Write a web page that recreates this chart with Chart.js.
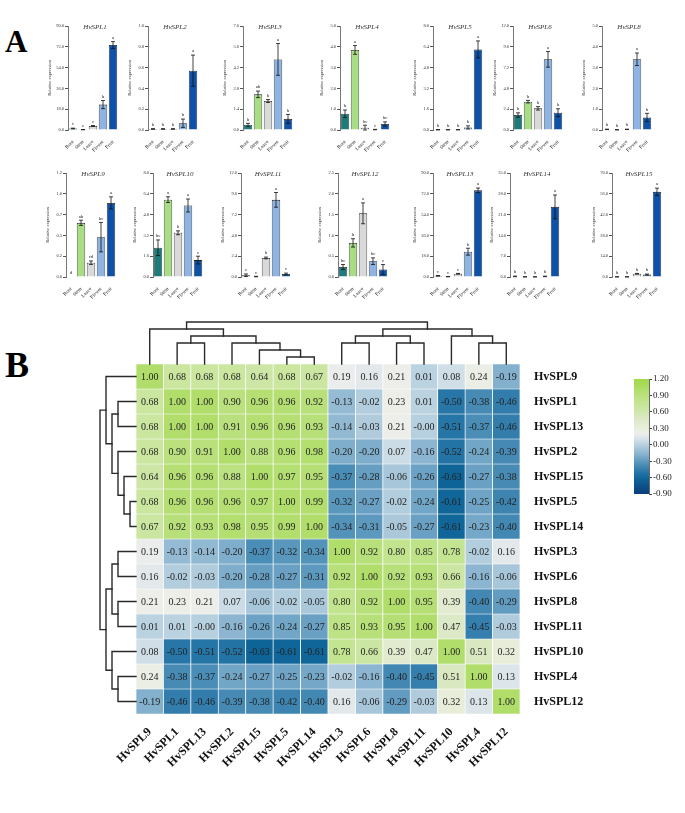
<!DOCTYPE html>
<html>
<head>
<meta charset="utf-8">
<script src="https://cdn.jsdelivr.net/npm/chart.js@4.4.0/dist/chart.umd.min.js"></script>
<style>
body { margin: 0; background: #fff; width: 685px; height: 813px; position: relative; overflow: hidden; font-family: "Liberation Serif", serif; }
canvas { position: absolute; }
.tag { position: absolute; font-weight: bold; line-height: 1; }
</style>
</head>
<body>
<div class="tag" style="left:5px;top:26px;font-size:31px">A</div>
<div class="tag" style="left:5px;top:347px;font-size:36px">B</div>
<script>
/* ============= Data: panel A ============= */
var tissues = ['Root', 'Stem', 'Leave', 'Flower', 'Fruit'];
var geneNames = ['HvSPL1', 'HvSPL2', 'HvSPL3', 'HvSPL4', 'HvSPL5', 'HvSPL6', 'HvSPL8',
                 'HvSPL9', 'HvSPL10', 'HvSPL11', 'HvSPL12', 'HvSPL13', 'HvSPL14', 'HvSPL15'];
var axisMax = [90, 1.0, 7.0, 5.0, 8.0, 12.0, 5.0, 1.2, 8.0, 12.0, 2.5, 90, 35, 70];
var expr = [
  [1.3, 0.3, 3.5, 22.0, 73.5],
  [0.01, 0.01, 0.01, 0.065, 0.57],
  [0.35, 2.4, 1.95, 4.75, 0.75],
  [0.78, 3.85, 0.11, 0.02, 0.29],
  [0.02, 0.02, 0.02, 0.2, 6.2],
  [1.73, 3.27, 2.5, 8.15, 2.0],
  [0.03, 0.01, 0.03, 3.4, 0.6],
  [0, 0.625, 0.165, 0.46, 0.855],
  [2.25, 5.95, 3.4, 5.5, 1.3],
  [0.2, 0.05, 2.2, 8.9, 0.35],
  [0.24, 0.82, 1.53, 0.38, 0.18],
  [1.0, 0.3, 2.8, 21.9, 75.0],
  [0.2, 0.05, 0.05, 0.2, 23.6],
  [0.1, 0.1, 2.2, 1.6, 57.3]
];
var sd = [
  [0.3, 0.1, 0.4, 3.5, 3.0],
  [0.003, 0.003, 0.003, 0.04, 0.15],
  [0.1, 0.22, 0.1, 1.07, 0.3],
  [0.18, 0.21, 0.12, 0.01, 0.1],
  [0.01, 0.01, 0.01, 0.12, 0.65],
  [0.25, 0.15, 0.2, 0.9, 0.45],
  [0.01, 0.005, 0.01, 0.3, 0.2],
  [0, 0.03, 0.02, 0.17, 0.07],
  [0.6, 0.22, 0.15, 0.5, 0.3],
  [0.15, 0.03, 0.1, 0.85, 0.1],
  [0.06, 0.1, 0.25, 0.08, 0.12],
  [0.3, 0.1, 0.3, 3.0, 2.0],
  [0.1, 0.02, 0.02, 0.1, 4.0],
  [0.05, 0.05, 0.2, 0.4, 2.5]
];
var sig = [
  ['c', 'c', 'c', 'b', 'a'],
  ['b', 'b', 'b', 'b', 'a'],
  ['b', 'ab', 'b', 'a', 'b'],
  ['b', 'a', 'bc', 'c', 'bc'],
  ['b', 'b', 'b', 'b', 'a'],
  ['b', 'b', 'b', 'a', 'b'],
  ['b', 'b', 'b', 'a', 'b'],
  ['d', 'ab', 'cd', 'bc', 'a'],
  ['bc', 'a', 'b', 'a', 'c'],
  ['c', 'c', 'b', 'a', 'c'],
  ['bc', 'b', 'a', 'bc', 'c'],
  ['c', 'c', 'c', 'b', 'a'],
  ['b', 'b', 'b', 'b', 'a'],
  ['b', 'b', 'b', 'b', 'a']
];

/* ============= Data: panel B ============= */
var hmGenes = ['HvSPL9', 'HvSPL1', 'HvSPL13', 'HvSPL2', 'HvSPL15', 'HvSPL5', 'HvSPL14',
               'HvSPL3', 'HvSPL6', 'HvSPL8', 'HvSPL11', 'HvSPL10', 'HvSPL4', 'HvSPL12'];
var corr = [
  [1.00, 0.68, 0.68, 0.68, 0.64, 0.68, 0.67, 0.19, 0.16, 0.21, 0.01, 0.08, 0.24, -0.19],
  [0.68, 1.00, 1.00, 0.90, 0.96, 0.96, 0.92, -0.13, -0.02, 0.23, 0.01, -0.50, -0.38, -0.46],
  [0.68, 1.00, 1.00, 0.91, 0.96, 0.96, 0.93, -0.14, -0.03, 0.21, -0.003, -0.51, -0.37, -0.46],
  [0.68, 0.90, 0.91, 1.00, 0.88, 0.96, 0.98, -0.20, -0.20, 0.07, -0.16, -0.52, -0.24, -0.39],
  [0.64, 0.96, 0.96, 0.88, 1.00, 0.97, 0.95, -0.37, -0.28, -0.06, -0.26, -0.63, -0.27, -0.38],
  [0.68, 0.96, 0.96, 0.96, 0.97, 1.00, 0.99, -0.32, -0.27, -0.02, -0.24, -0.61, -0.25, -0.42],
  [0.67, 0.92, 0.93, 0.98, 0.95, 0.99, 1.00, -0.34, -0.31, -0.05, -0.27, -0.61, -0.23, -0.40],
  [0.19, -0.13, -0.14, -0.20, -0.37, -0.32, -0.34, 1.00, 0.92, 0.80, 0.85, 0.78, -0.02, 0.16],
  [0.16, -0.02, -0.03, -0.20, -0.28, -0.27, -0.31, 0.92, 1.00, 0.92, 0.93, 0.66, -0.16, -0.06],
  [0.21, 0.23, 0.21, 0.07, -0.06, -0.02, -0.05, 0.80, 0.92, 1.00, 0.95, 0.39, -0.40, -0.29],
  [0.01, 0.01, -0.003, -0.16, -0.26, -0.24, -0.27, 0.85, 0.93, 0.95, 1.00, 0.47, -0.45, -0.03],
  [0.08, -0.50, -0.51, -0.52, -0.63, -0.61, -0.61, 0.78, 0.66, 0.39, 0.47, 1.00, 0.51, 0.32],
  [0.24, -0.38, -0.37, -0.24, -0.27, -0.25, -0.23, -0.02, -0.16, -0.40, -0.45, 0.51, 1.00, 0.13],
  [-0.19, -0.46, -0.46, -0.39, -0.38, -0.42, -0.40, 0.16, -0.06, -0.29, -0.03, 0.32, 0.13, 1.00]
];
// clustering: [left node, right node, merge level]; nodes >= 14 are earlier merges
var treeMerges = [[5, 6, 1], [4, 14, 2], [3, 15, 3], [1, 2, 3], [17, 16, 4], [0, 18, 5],
                  [7, 8, 3], [9, 10, 3], [20, 21, 4], [12, 13, 3], [11, 23, 4], [22, 24, 5], [19, 25, 6]];
var cbTicks = [-0.9, -0.6, -0.3, 0.0, 0.3, 0.6, 0.9, 1.2];

/* ============= Styles / layout ============= */
var tissueColors = ['#1E7B7B', '#A8DC85', '#D9D9D9', '#8EB4E3', '#0D52A8'];
var axisLeft = [68, 148, 243, 340, 433, 513, 602, 66, 153, 241, 338, 433, 510, 612];
var serif = '"Liberation Serif", "Times New Roman", serif';
var corrStops = [
  [-0.90, '#0A3D7B'], [-0.62, '#0F6598'], [-0.50, '#2776A7'], [-0.37, '#4A8DB6'],
  [-0.25, '#6FA4C6'], [-0.13, '#94BBD3'], [0.00, '#B8D0DF'], [0.10, '#D5E1E9'],
  [0.20, '#EDEEEC'], [0.30, '#E8EEDB'], [0.50, '#DAE8C3'], [0.66, '#CBE6A2'],
  [0.80, '#C2E48E'], [0.92, '#B8E07A'], [1.00, '#B1DE6B'], [1.20, '#A0D848']
];

/* ============= Functions ============= */
function hexToRgb(h) {
  return [parseInt(h.substr(1, 2), 16), parseInt(h.substr(3, 2), 16), parseInt(h.substr(5, 2), 16)];
}

function corrColor(v) {
  for (var i = 0; i < corrStops.length - 1; i++) {
    var a = corrStops[i], b = corrStops[i + 1];
    if (v <= b[0]) {
      var t = Math.max(0, Math.min(1, (v - a[0]) / (b[0] - a[0])));
      var ca = hexToRgb(a[1]), cb = hexToRgb(b[1]);
      return 'rgb(' + Math.round(ca[0] + (cb[0] - ca[0]) * t) + ',' +
        Math.round(ca[1] + (cb[1] - ca[1]) * t) + ',' + Math.round(ca[2] + (cb[2] - ca[2]) * t) + ')';
    }
  }
  return corrStops[corrStops.length - 1][1];
}

function addCanvas(left, top, w, h) {
  var cv = document.createElement('canvas');
  cv.width = w; cv.height = h;
  cv.style.left = left + 'px'; cv.style.top = top + 'px';
  cv.style.width = w + 'px'; cv.style.height = h + 'px';
  document.body.appendChild(cv);
  return cv;
}

// error bars, letters and italic gene title for the small bar charts
var barExtras = {
  id: 'barExtras',
  afterDatasetsDraw: function(chart, args, opts) {
    var g = opts.gene;
    var ctx = chart.ctx, y = chart.scales.y, area = chart.chartArea;
    var meta = chart.getDatasetMeta(0);
    ctx.save();
    ctx.strokeStyle = '#111';
    ctx.lineWidth = 0.8;
    ctx.fillStyle = '#222';
    ctx.textAlign = 'center';
    meta.data.forEach(function(bar, k) {
      var v = expr[g][k], e = sd[g][k];
      var top = y.getPixelForValue(v + e);
      var bot = y.getPixelForValue(Math.max(0, v - e));
      if (e > 0) {
        ctx.beginPath();
        ctx.moveTo(bar.x, top); ctx.lineTo(bar.x, bot);
        ctx.moveTo(bar.x - 2, top); ctx.lineTo(bar.x + 2, top);
        ctx.moveTo(bar.x - 2, bot); ctx.lineTo(bar.x + 2, bot);
        ctx.stroke();
      }
      ctx.font = '5px ' + serif;
      ctx.textBaseline = 'bottom';
      ctx.fillText(sig[g][k], bar.x, top - 1.5);
    });
    ctx.font = 'italic 7px ' + serif;
    ctx.textBaseline = 'middle';
    ctx.fillStyle = '#333';
    ctx.fillText(geneNames[g], (area.left + area.right) / 2 + 2, area.top + 1);
    ctx.restore();
  }
};

function makeBarChart(g) {
  var row = g < 7 ? 0 : 1;
  var cv = addCanvas(axisLeft[g] - 30, row === 0 ? 20 : 167, 86, 140);
  new Chart(cv, {
    type: 'bar',
    data: {
      labels: tissues,
      datasets: [{
        data: expr[g],
        backgroundColor: tissueColors,
        borderColor: '#222',
        borderWidth: 0.8,
        barPercentage: 0.84,
        categoryPercentage: 1
      }]
    },
    options: {
      responsive: false,
      animation: false,
      layout: { padding: { top: 6, right: 6 } },
      plugins: { legend: { display: false }, tooltip: { enabled: false }, barExtras: { gene: g } },
      scales: {
        x: {
          grid: { display: false },
          border: { display: false },
          ticks: { font: { size: 5, family: serif }, color: '#222', minRotation: 45, maxRotation: 45,
                   autoSkip: false, padding: 1 },
          afterFit: function(s) { s.height = 30; }
        },
        y: {
          min: 0,
          max: axisMax[g],
          grid: { drawOnChartArea: false, tickLength: 3, color: '#555' },
          border: { color: '#555', width: 0.8 },
          ticks: { font: { size: 4.5, family: serif }, color: '#333', padding: 1,
                   callback: function(v) { return v.toFixed(1); } },
          title: { display: true, text: 'Relative expression', font: { size: 4.5, family: serif }, color: '#333', padding: { top: 9, bottom: 0 } },
          afterBuildTicks: function(s) {
            s.ticks = [0, 1, 2, 3, 4, 5].map(function(k) { return { value: axisMax[g] * k / 5 }; });
          },
          afterFit: function(s) { s.width = 30; }
        }
      }
    },
    plugins: [barExtras]
  });
}

// cell values + dendrograms for the heatmap
var heatExtras = {
  id: 'heatExtras',
  afterDatasetsDraw: function(chart) {
    var ctx = chart.ctx;
    ctx.save();
    ctx.fillStyle = '#222';
    ctx.font = '10px ' + serif;
    ctx.textAlign = 'center';
    ctx.textBaseline = 'middle';
    corr.forEach(function(row, r) {
      var meta = chart.getDatasetMeta(r);
      meta.data.forEach(function(cell, c) {
        ctx.fillText(row[c].toFixed(2), cell.x, (cell.y + cell.base) / 2 + 0.5);
      });
    });
    ctx.restore();
  },
  afterDraw: function(chart) {
    var ctx = chart.ctx, area = chart.chartArea;
    var xs = chart.scales.x, ys = chart.scales.y2;
    var n = hmGenes.length;
    var posTop = [], posLeft = [], lev = [];
    for (var i = 0; i < n; i++) {
      posTop.push(xs.getPixelForValue(i));
      posLeft.push(ys.getPixelForValue(i));
      lev.push(0);
    }
    ctx.save();
    ctx.strokeStyle = '#2a2a2a';
    ctx.lineWidth = 1.4;
    ctx.lineCap = 'square';
    function topY(h) { return area.top - h * 7; }
    function leftX(h) { return area.left - h * 6; }
    treeMerges.forEach(function(m) {
      var a = m[0], b = m[1], h = m[2];
      ctx.beginPath();
      // top tree
      ctx.moveTo(posTop[a], topY(lev[a])); ctx.lineTo(posTop[a], topY(h));
      ctx.lineTo(posTop[b], topY(h)); ctx.lineTo(posTop[b], topY(lev[b]));
      // left tree
      ctx.moveTo(leftX(lev[a]), posLeft[a]); ctx.lineTo(leftX(h), posLeft[a]);
      ctx.lineTo(leftX(h), posLeft[b]); ctx.lineTo(leftX(lev[b]), posLeft[b]);
      ctx.stroke();
      posTop.push((posTop[a] + posTop[b]) / 2);
      posLeft.push((posLeft[a] + posLeft[b]) / 2);
      lev.push(h);
    });
    ctx.restore();
  }
};

function makeHeatmap() {
  var cv = addCanvas(0, 300, 685, 513);
  new Chart(cv, {
    type: 'bar',
    data: {
      labels: hmGenes,
      datasets: corr.map(function(row, r) {
        return {
          label: hmGenes[r],
          data: row.map(function() { return 1; }),
          backgroundColor: row.map(corrColor),
          borderColor: '#ffffff',
          borderWidth: 0.7,
          borderSkipped: false,
          barPercentage: 1,
          categoryPercentage: 1
        };
      })
    },
    options: {
      responsive: false,
      animation: false,
      layout: { padding: { left: 136, top: 64, right: 85, bottom: 39 } },
      plugins: { legend: { display: false }, tooltip: { enabled: false } },
      scales: {
        x: {
          stacked: true,
          grid: { display: false },
          border: { display: false },
          ticks: { font: { size: 12, weight: 'bold', family: serif }, color: '#111', minRotation: 45, maxRotation: 45,
                   autoSkip: false, padding: 3 },
          afterFit: function(s) { s.height = 60; }
        },
        y: { stacked: true, display: false, min: 0, max: 14, reverse: true },
        y2: {
          type: 'category',
          position: 'right',
          labels: hmGenes,
          offset: true,
          grid: { display: false },
          border: { display: false },
          ticks: { font: { size: 12, weight: 'bold', family: serif }, color: '#111', padding: 6, autoSkip: false },
          afterFit: function(s) { s.width = 80; }
        }
      }
    },
    plugins: [heatExtras]
  });
}

function makeColorBar() {
  var cv = addCanvas(600, 370, 85, 135);
  new Chart(cv, {
    type: 'bar',
    data: {
      labels: [''],
      datasets: [{
        data: [[cbTicks[0], cbTicks[cbTicks.length - 1]]],
        backgroundColor: function(c) {
          var ca = c.chart.chartArea;
          if (!ca) return '#ccc';
          var grad = c.chart.ctx.createLinearGradient(0, ca.bottom, 0, ca.top);
          var lo = cbTicks[0], hi = cbTicks[cbTicks.length - 1];
          corrStops.forEach(function(s) { grad.addColorStop((s[0] - lo) / (hi - lo), s[1]); });
          return grad;
        },
        borderWidth: 0,
        barPercentage: 1,
        categoryPercentage: 1
      }]
    },
    options: {
      responsive: false,
      animation: false,
      layout: { padding: { left: 34, top: 9, bottom: 11, right: 0 } },
      plugins: { legend: { display: false }, tooltip: { enabled: false } },
      scales: {
        x: { display: false },
        y: {
          position: 'right',
          min: cbTicks[0],
          max: cbTicks[cbTicks.length - 1],
          grid: { drawOnChartArea: false, tickLength: 3, color: '#444' },
          border: { color: '#444', width: 0.8 },
          ticks: { font: { size: 9, family: serif }, color: '#222', padding: 1,
                   callback: function(v) { return v.toFixed(2); } },
          afterBuildTicks: function(s) { s.ticks = cbTicks.map(function(v) { return { value: v }; }); },
          afterFit: function(s) { s.width = 36; }
        }
      }
    }
  });
}

/* ============= Main ============= */
for (var g = 0; g < geneNames.length; g++) {
  makeBarChart(g);
}
makeHeatmap();
makeColorBar();
</script>
</body>
</html>
